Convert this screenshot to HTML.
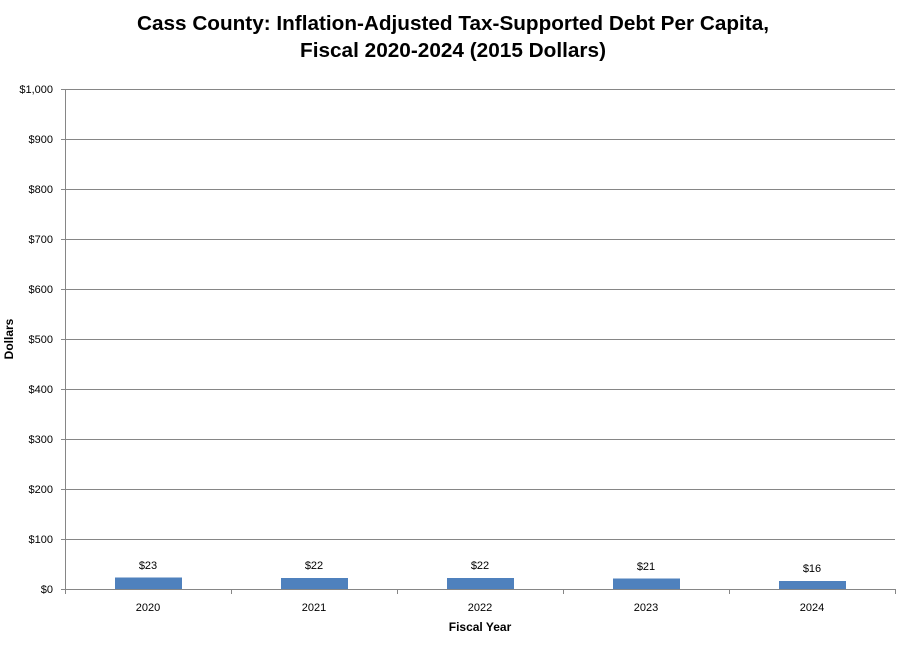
<!DOCTYPE html>
<html><head><meta charset="utf-8"><style>
html,body{margin:0;padding:0;background:#fff;}
svg{display:block;}
text{font-family:"Liberation Sans",sans-serif;fill:#000;}
</style></head><body>
<svg width="907" height="651" viewBox="0 0 907 651" xmlns="http://www.w3.org/2000/svg">
<rect width="907" height="651" fill="#fff"/>
<text x="453" y="30" text-anchor="middle" font-size="20" font-weight="bold" textLength="632" lengthAdjust="spacingAndGlyphs">Cass County: Inflation-Adjusted Tax-Supported Debt Per Capita,</text>
<text x="453" y="57" text-anchor="middle" font-size="20" font-weight="bold" textLength="306" lengthAdjust="spacingAndGlyphs">Fiscal 2020-2024 (2015 Dollars)</text>
<g stroke="#868686" stroke-width="1">
<line x1="61" y1="89.5" x2="895" y2="89.5"/>
<line x1="61" y1="139.5" x2="895" y2="139.5"/>
<line x1="61" y1="189.5" x2="895" y2="189.5"/>
<line x1="61" y1="239.5" x2="895" y2="239.5"/>
<line x1="61" y1="289.5" x2="895" y2="289.5"/>
<line x1="61" y1="339.5" x2="895" y2="339.5"/>
<line x1="61" y1="389.5" x2="895" y2="389.5"/>
<line x1="61" y1="439.5" x2="895" y2="439.5"/>
<line x1="61" y1="489.5" x2="895" y2="489.5"/>
<line x1="61" y1="539.5" x2="895" y2="539.5"/>
<line x1="61" y1="589.5" x2="895" y2="589.5"/>
<line x1="65.5" y1="89" x2="65.5" y2="594"/>
<line x1="231.5" y1="589" x2="231.5" y2="594"/>
<line x1="397.5" y1="589" x2="397.5" y2="594"/>
<line x1="563.5" y1="589" x2="563.5" y2="594"/>
<line x1="729.5" y1="589" x2="729.5" y2="594"/>
<line x1="895.5" y1="589" x2="895.5" y2="594"/>
</g>
<g fill="#4f81bd">
<rect x="115" y="577.5" width="67" height="11.5"/>
<rect x="281" y="578" width="67" height="11"/>
<rect x="447" y="578" width="67" height="11"/>
<rect x="613" y="578.5" width="67" height="10.5"/>
<rect x="779" y="581" width="67" height="8"/>
</g>
<g font-size="11" text-anchor="middle">
<text x="148" y="569">$23</text>
<text x="314" y="569">$22</text>
<text x="480" y="569">$22</text>
<text x="646" y="570">$21</text>
<text x="812" y="572">$16</text>
<text x="148" y="611">2020</text>
<text x="314" y="611">2021</text>
<text x="480" y="611">2022</text>
<text x="646" y="611">2023</text>
<text x="812" y="611">2024</text>
</g>
<g font-size="11" text-anchor="end">
<text x="53" y="93">$1,000</text>
<text x="53" y="143">$900</text>
<text x="53" y="193">$800</text>
<text x="53" y="243">$700</text>
<text x="53" y="293">$600</text>
<text x="53" y="343">$500</text>
<text x="53" y="393">$400</text>
<text x="53" y="443">$300</text>
<text x="53" y="493">$200</text>
<text x="53" y="543">$100</text>
<text x="53" y="593">$0</text>
</g>
<text x="480" y="631" font-size="12" font-weight="bold" text-anchor="middle">Fiscal Year</text>
<text transform="translate(13,339) rotate(-90)" font-size="12" font-weight="bold" text-anchor="middle">Dollars</text>
</svg>
</body></html>
